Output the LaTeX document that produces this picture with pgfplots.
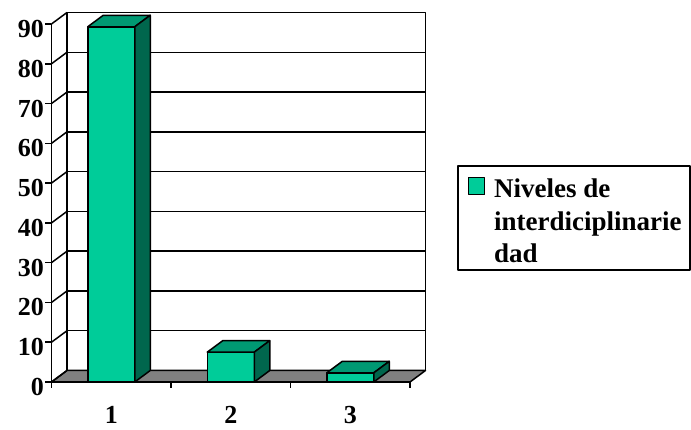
\documentclass[border=0pt]{standalone}
\usepackage{pgfplots}
\pgfplotsset{compat=1.18}
\usepackage{pgfplotstable}
\usepackage{fontspec}
\setmainfont{Liberation Serif}

\definecolor{barfront}{RGB}{0,204,153}
\definecolor{bartop}{RGB}{0,153,115}
\definecolor{barside}{RGB}{0,102,77}
\definecolor{floorgray}{RGB}{128,128,128}

% depth offset of the 3-D walls and boxes
\newcommand\depthx{15.5pt}
\newcommand\depthy{11.5pt}
% length of one y unit
\newcommand\yunit{3.978}

% top and side faces of a column; the mark sits at the top centre of the front face
\pgfdeclareplotmark{box3d}{%
  \pgfmathsetlengthmacro\barh{\colval*\yunit pt}%
  \pgfsetlinewidth{1.5pt}%
  \pgfsetstrokecolor{black}%
  \pgfsetroundjoin
  \pgfpathmoveto{\pgfqpoint{-23.5pt}{0pt}}%
  \pgfpathlineto{\pgfqpoint{23.5pt}{0pt}}%
  \pgfpathlineto{\pgfpoint{23.5pt+\depthx}{\depthy}}%
  \pgfpathlineto{\pgfpoint{-23.5pt+\depthx}{\depthy}}%
  \pgfpathclose
  \pgfsetfillcolor{bartop}%
  \pgfusepath{fill,stroke}%
  \pgfpathmoveto{\pgfqpoint{23.5pt}{0pt}}%
  \pgfpathlineto{\pgfpoint{23.5pt+\depthx}{\depthy}}%
  \pgfpathlineto{\pgfpoint{23.5pt+\depthx}{\depthy-\barh}}%
  \pgfpathlineto{\pgfpoint{23.5pt}{-\barh}}%
  \pgfpathclose
  \pgfsetfillcolor{barside}%
  \pgfusepath{fill,stroke}%
}

% three-line legend text, top-aligned on its first baseline
\newcommand\legtext{\vtop{\hsize=187pt\parindent=0pt\parfillskip=0pt plus 1fil
  Niveles de\par interdiciplinarie\par dad}}

\pgfplotstableread{
cat val
1 89.3
2 7.5
3 2.3
}\niveles

\begin{document}
\begin{tikzpicture}[line join=round]
\path[use as bounding box] (0,0) rectangle (691pt,430pt);
\begin{axis}[
  at={(51.5pt,48pt)}, anchor=south west,
  x=119.5pt, y=\yunit pt,
  xmin=0.5, xmax=3.5, ymin=0, ymax=90,
  axis lines*=left,
  axis line style={line width=1.5pt, black},
  clip=false,
  xtick={0.5,1.5,2.5,3.5}, xticklabels={},
  extra x ticks={1,2,3},
  extra x tick labels={1,2,3},
  extra x tick style={major tick length=0pt, xticklabel style={yshift=-21pt}},
  ytick={0,10,...,90},
  tick align=outside,
  major tick length=6pt,
  tick style={line width=1.5pt, black},
  yticklabel style={xshift=2pt, yshift=-5pt},
  tick label style={font=\fontsize{26}{30}\selectfont\bfseries},
  /pgf/number format/assume math mode=true,
  legend style={at={(1.1311,0.6061)}, anchor=north west,
    draw=black, line width=1.5pt, inner xsep=0pt, inner ysep=0pt,
    font=\fontsize{27}{32.5}\selectfont\bfseries},
  legend cell align=left,
  % the key square sits beside the first line of the three-line entry
  legend image code/.code={%
    \path (0pt,-40pt) (0pt,40pt);
    \draw[fill=barfront, draw=black, line width=1.2pt] (10pt,23pt) rectangle (26pt,40pt);},
]
% floor
\filldraw[fill=floorgray, draw=black, line width=1.5pt]
  (axis cs:0.5,0) -- (axis cs:3.5,0)
  -- ([shift={(\depthx,\depthy)}]axis cs:3.5,0)
  -- ([shift={(\depthx,\depthy)}]axis cs:0.5,0) -- cycle;
% back wall
\draw[line width=1.5pt]
  ([shift={(\depthx,\depthy)}]axis cs:0.5,0) rectangle ([shift={(\depthx,\depthy)}]axis cs:3.5,90);
% grid on the back wall and on the left wall
\pgfplotsinvokeforeach{10,20,...,80}{
  \draw[line width=1.4pt] ([shift={(\depthx,\depthy)}]axis cs:0.5,#1) -- ([shift={(\depthx,\depthy)}]axis cs:3.5,#1);
}
\pgfplotsinvokeforeach{0,10,...,90}{
  \draw[line width=1.5pt] (axis cs:0.5,#1) -- ([shift={(\depthx,\depthy)}]axis cs:0.5,#1);
}
% front faces of the columns
\addplot[ybar, bar width=47pt, fill=barfront, draw=black, line width=1.5pt]
  table[x=cat, y=val] {\niveles};
\addlegendentry[inner xsep=9pt, inner ysep=0pt, text height=32pt, text depth=72pt]{\legtext}
% top and side faces of the columns
\addplot[only marks, mark=box3d, forget plot,
  visualization depends on={\thisrow{val} \as \colval}]
  table[x=cat, y=val] {\niveles};
\end{axis}
\end{tikzpicture}
\end{document}
